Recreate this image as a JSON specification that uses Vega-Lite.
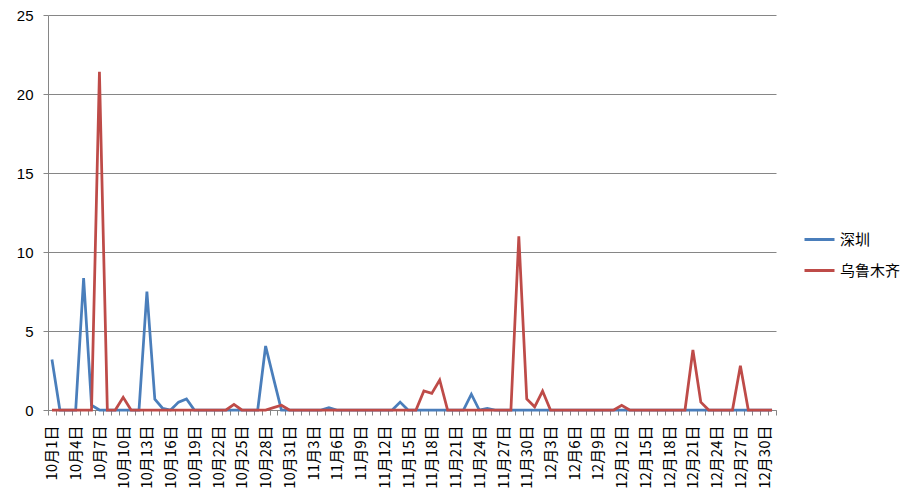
{
  "$schema": "https://vega.github.io/schema/vega-lite/v6.json",
  "autosize": {"type": "none"},
  "width": 728,
  "height": 395,
  "padding": {"left": 48, "top": 15, "right": 135, "bottom": 88},
  "background": "white",
  "config": {"view": {"stroke": null}},
  "data": {"values": [
    {"d":"10月1日","sz":3.2,"wlmq":0},{"d":"10月2日","sz":0,"wlmq":0},{"d":"10月3日","sz":0,"wlmq":0},{"d":"10月4日","sz":0,"wlmq":0},
    {"d":"10月5日","sz":8.35,"wlmq":0},{"d":"10月6日","sz":0.3,"wlmq":0},{"d":"10月7日","sz":0,"wlmq":21.4},{"d":"10月8日","sz":0,"wlmq":0},
    {"d":"10月9日","sz":0,"wlmq":0},{"d":"10月10日","sz":0,"wlmq":0.8},{"d":"10月11日","sz":0,"wlmq":0},{"d":"10月12日","sz":0,"wlmq":0},
    {"d":"10月13日","sz":7.5,"wlmq":0},{"d":"10月14日","sz":0.68,"wlmq":0},{"d":"10月15日","sz":0.1,"wlmq":0},{"d":"10月16日","sz":0,"wlmq":0},
    {"d":"10月17日","sz":0.5,"wlmq":0},{"d":"10月18日","sz":0.7,"wlmq":0},{"d":"10月19日","sz":0,"wlmq":0},{"d":"10月20日","sz":0,"wlmq":0},
    {"d":"10月21日","sz":0,"wlmq":0},{"d":"10月22日","sz":0,"wlmq":0},{"d":"10月23日","sz":0,"wlmq":0},{"d":"10月24日","sz":0,"wlmq":0.35},
    {"d":"10月25日","sz":0,"wlmq":0},{"d":"10月26日","sz":0,"wlmq":0},{"d":"10月27日","sz":0,"wlmq":0},{"d":"10月28日","sz":4.05,"wlmq":0},
    {"d":"10月29日","sz":2.0,"wlmq":0.15},{"d":"10月30日","sz":0,"wlmq":0.3},{"d":"10月31日","sz":0,"wlmq":0},
    {"d":"11月1日","sz":0,"wlmq":0},{"d":"11月2日","sz":0,"wlmq":0},{"d":"11月3日","sz":0,"wlmq":0},{"d":"11月4日","sz":0,"wlmq":0},
    {"d":"11月5日","sz":0.15,"wlmq":0},{"d":"11月6日","sz":0,"wlmq":0},{"d":"11月7日","sz":0,"wlmq":0},{"d":"11月8日","sz":0,"wlmq":0},
    {"d":"11月9日","sz":0,"wlmq":0},{"d":"11月10日","sz":0,"wlmq":0},{"d":"11月11日","sz":0,"wlmq":0},{"d":"11月12日","sz":0,"wlmq":0},
    {"d":"11月13日","sz":0,"wlmq":0},{"d":"11月14日","sz":0.5,"wlmq":0},{"d":"11月15日","sz":0,"wlmq":0},{"d":"11月16日","sz":0,"wlmq":0},
    {"d":"11月17日","sz":0,"wlmq":1.2},{"d":"11月18日","sz":0,"wlmq":1.05},{"d":"11月19日","sz":0,"wlmq":1.9},{"d":"11月20日","sz":0,"wlmq":0},
    {"d":"11月21日","sz":0,"wlmq":0},{"d":"11月22日","sz":0,"wlmq":0},{"d":"11月23日","sz":1.0,"wlmq":0},{"d":"11月24日","sz":0,"wlmq":0},
    {"d":"11月25日","sz":0.1,"wlmq":0},{"d":"11月26日","sz":0,"wlmq":0},{"d":"11月27日","sz":0,"wlmq":0},{"d":"11月28日","sz":0,"wlmq":0},
    {"d":"11月29日","sz":0,"wlmq":11.0},{"d":"11月30日","sz":0,"wlmq":0.7},
    {"d":"12月1日","sz":0,"wlmq":0.2},{"d":"12月2日","sz":0,"wlmq":1.2},{"d":"12月3日","sz":0,"wlmq":0},{"d":"12月4日","sz":0,"wlmq":0},
    {"d":"12月5日","sz":0,"wlmq":0},{"d":"12月6日","sz":0,"wlmq":0},{"d":"12月7日","sz":0,"wlmq":0},{"d":"12月8日","sz":0,"wlmq":0},
    {"d":"12月9日","sz":0,"wlmq":0},{"d":"12月10日","sz":0,"wlmq":0},{"d":"12月11日","sz":0,"wlmq":0},{"d":"12月12日","sz":0,"wlmq":0.3},
    {"d":"12月13日","sz":0,"wlmq":0},{"d":"12月14日","sz":0,"wlmq":0},{"d":"12月15日","sz":0,"wlmq":0},{"d":"12月16日","sz":0,"wlmq":0},
    {"d":"12月17日","sz":0,"wlmq":0},{"d":"12月18日","sz":0,"wlmq":0},{"d":"12月19日","sz":0,"wlmq":0},{"d":"12月20日","sz":0,"wlmq":0},
    {"d":"12月21日","sz":0,"wlmq":3.8},{"d":"12月22日","sz":0,"wlmq":0.5},{"d":"12月23日","sz":0,"wlmq":0},{"d":"12月24日","sz":0,"wlmq":0},
    {"d":"12月25日","sz":0,"wlmq":0},{"d":"12月26日","sz":0,"wlmq":0},{"d":"12月27日","sz":0,"wlmq":2.8},{"d":"12月28日","sz":0,"wlmq":0},
    {"d":"12月29日","sz":0,"wlmq":0},{"d":"12月30日","sz":0,"wlmq":0},{"d":"12月31日","sz":0,"wlmq":0}
  ]},
  "encoding": {
    "x": {
      "field": "d", "type": "ordinal", "sort": null, "bandPosition": 0.5,
      "scale": {"type": "band", "paddingInner": 0, "paddingOuter": 0},
      "axis": {
        "title": null, "tickBand": "extent", "domainColor": "#868686", "tickColor": "#868686",
        "tickSize": 5, "labelAngle": -90, "labelPadding": 10, "labelOverlap": false,
        "labelFont": "Noto Sans CJK SC", "labelFontSize": 15, "labelColor": "#000000",
        "labelExpr": "indexof(['10月1日','10月4日','10月7日','10月10日','10月13日','10月16日','10月19日','10月22日','10月25日','10月28日','10月31日','11月3日','11月6日','11月9日','11月12日','11月15日','11月18日','11月21日','11月24日','11月27日','11月30日','12月3日','12月6日','12月9日','12月12日','12月15日','12月18日','12月21日','12月24日','12月27日','12月30日'], datum.value) >= 0 ? datum.value : ''"
      }
    }
  },
  "layer": [
    {
      "mark": {"type": "line", "strokeWidth": 2.75},
      "encoding": {
        "y": {
          "field": "sz", "type": "quantitative",
          "scale": {"domain": [0, 25], "nice": false},
          "axis": {
            "title": null, "values": [0, 5, 10, 15, 20, 25], "grid": true, "gridColor": "#868686",
            "domainColor": "#868686", "tickColor": "#868686", "tickSize": 5, "labelPadding": 10,
            "labelFont": "Liberation Sans", "labelFontSize": 15, "labelColor": "#000000"
          }
        },
        "color": {
          "datum": "深圳", "type": "nominal",
          "scale": {"domain": ["深圳", "乌鲁木齐"], "range": ["#4A7EBB", "#BE4B48"]},
          "legend": {
            "title": null, "orient": "none", "legendX": 755, "legendY": 208,
            "symbolType": "stroke", "symbolSize": 900, "symbolStrokeWidth": 3,
            "labelFont": "Noto Sans CJK SC", "labelFontSize": 15, "labelColor": "#000000",
            "labelOffset": 4, "rowPadding": 6
          }
        }
      }
    },
    {
      "mark": {"type": "line", "strokeWidth": 2.75},
      "encoding": {
        "y": {"field": "wlmq", "type": "quantitative"},
        "color": {"datum": "乌鲁木齐", "type": "nominal"}
      }
    }
  ]
}
